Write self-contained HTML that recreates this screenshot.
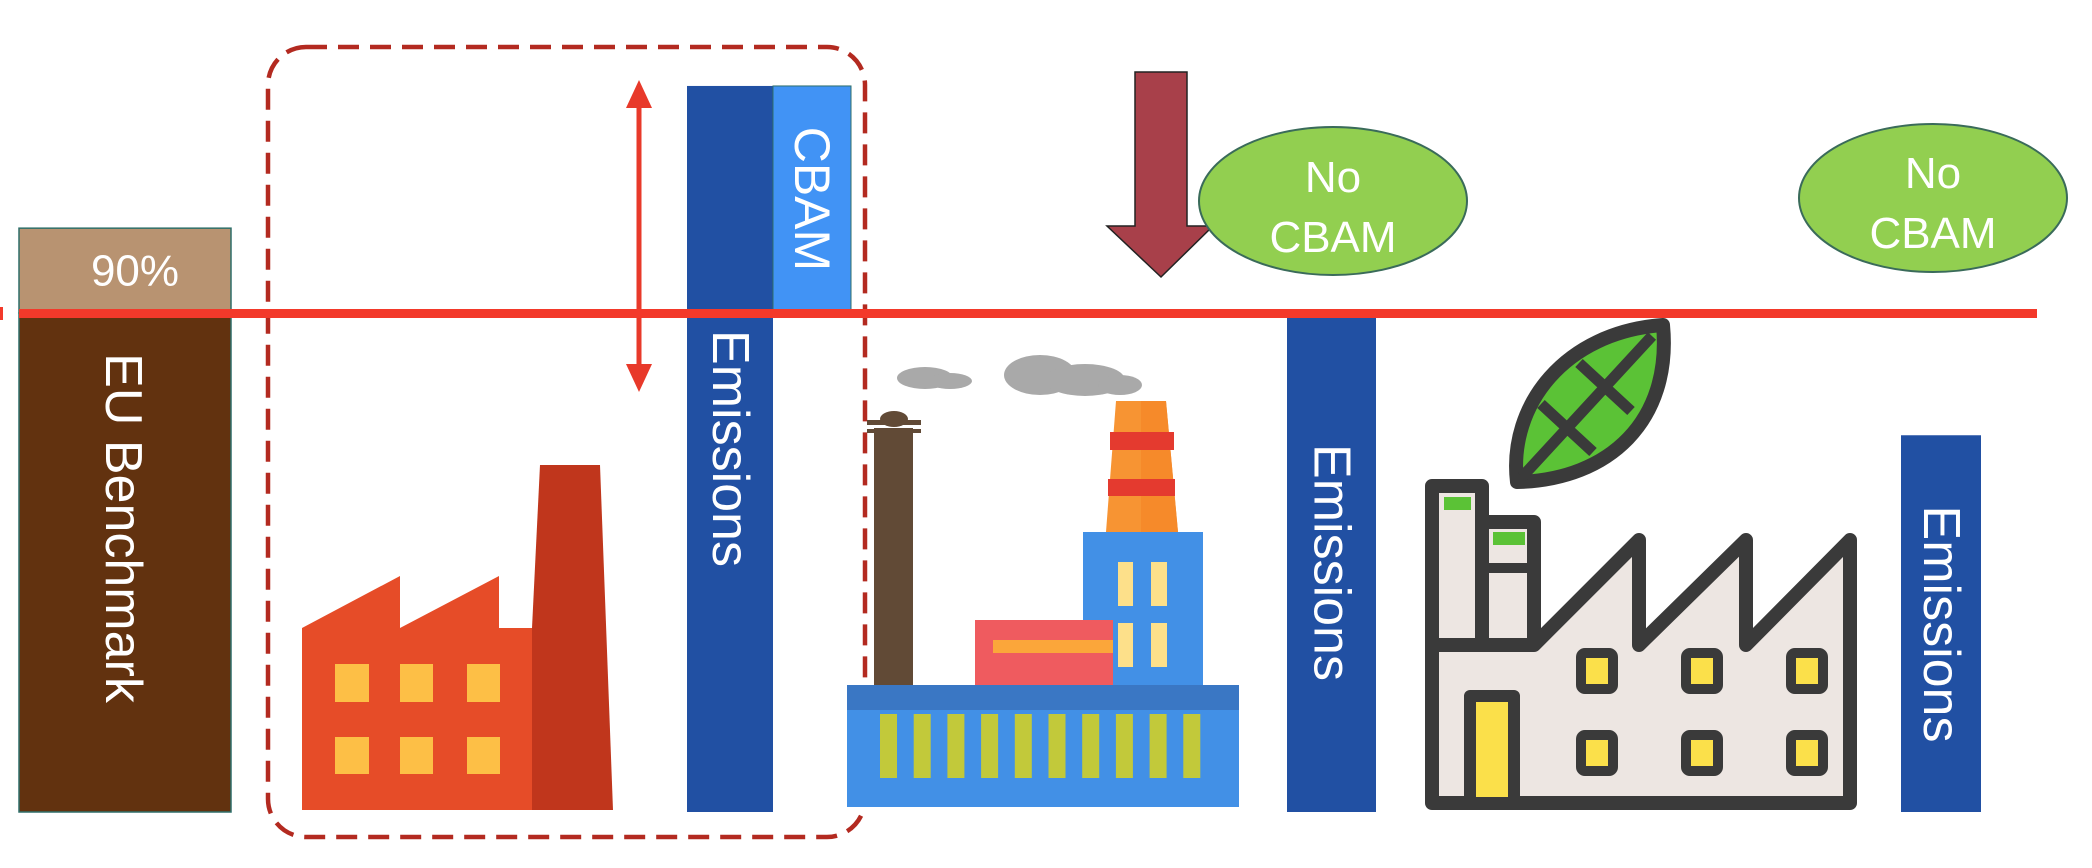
<!DOCTYPE html>
<html><head><meta charset="utf-8">
<style>
html,body{margin:0;padding:0;background:#fff;width:2092px;height:868px;overflow:hidden}
svg{display:block}
text{font-family:"Liberation Sans",Arial,sans-serif;fill:#fff}
</style></head>
<body>
<svg id="chart" width="2092" height="868" viewBox="0 0 2092 868" xmlns="http://www.w3.org/2000/svg">
  <g id="bars"></g>

  <!-- dashed box -->
  <rect x="268" y="47" width="597" height="790" rx="38" fill="none" stroke="#b32a20" stroke-width="4.5" stroke-dasharray="21 11"/>

  <!-- double arrow -->
  <g>
    <line x1="639" y1="96" x2="639" y2="375" stroke="#e8392a" stroke-width="5"/>
    <polygon points="639,80 626,108 652,108" fill="#e8392a"/>
    <polygon points="639,392 626,364 652,364" fill="#e8392a"/>
  </g>

  <!-- red factory -->
  <g>
    <polygon points="302,810 302,628 400,576 400,628 499,576 499,628 532,628 532,810" fill="#e64c28"/>
    <polygon points="540,465 600,465 613,810 532,810 532,628" fill="#c0361c"/>
    <g fill="#fdbf46">
      <rect x="335" y="664" width="34" height="38"/><rect x="400" y="664" width="33" height="38"/><rect x="467" y="664" width="33" height="38"/>
      <rect x="335" y="737" width="34" height="37"/><rect x="400" y="737" width="33" height="37"/><rect x="467" y="737" width="33" height="37"/>
    </g>
  </g>

  <!-- industrial plant -->
  <g>
    <g fill="#a9a9a9">
      <ellipse cx="925" cy="378" rx="28" ry="11"/><ellipse cx="950" cy="381" rx="22" ry="8"/>
      <ellipse cx="1040" cy="375" rx="36" ry="20"/><ellipse cx="1085" cy="380" rx="40" ry="16"/><ellipse cx="1120" cy="385" rx="22" ry="10"/>
    </g>
    <rect x="874" y="428" width="39" height="258" fill="#614a36"/>
    <rect x="867" y="420" width="54" height="5" fill="#614a36"/><rect x="867" y="429" width="54" height="4" fill="#614a36"/>
    <ellipse cx="894" cy="419" rx="14" ry="8" fill="#614a36"/>
    <polygon points="1116,401 1166,401 1178,532 1106,532" fill="#f79433"/>
    <polygon points="1141,401 1166,401 1178,532 1141,532" fill="#f68a2a"/>
    <rect x="1110" y="432" width="64" height="18" fill="#e43a2f"/>
    <rect x="1108" y="479" width="67" height="17" fill="#e43a2f"/>
    <rect x="1083" y="532" width="120" height="154" fill="#4290e6"/>
    <g fill="#fde08a"><rect x="1118" y="562" width="15" height="44"/><rect x="1151" y="562" width="16" height="44"/><rect x="1118" y="623" width="15" height="44"/><rect x="1151" y="623" width="16" height="44"/></g>
    <rect x="975" y="620" width="138" height="66" fill="#ef5b5f"/>
    <rect x="993" y="640" width="120" height="13" fill="#fba63a"/>
    <rect x="847" y="685" width="392" height="25" fill="#3a77c4"/>
    <rect x="847" y="710" width="392" height="97" fill="#4290e6"/>
    <g id="plantBars" fill="#c2c93a"></g>
  </g>

  <!-- green factory -->
  <g stroke="#3a3a3a" stroke-width="14" stroke-linejoin="round">
    <path d="M1517,482 C1508,405 1565,332 1663,325 C1672,420 1610,480 1517,482 Z" fill="#5bc236"/>
    <path d="M1522,477 L1652,336 M1541,404 L1593,452 M1579,363 L1631,411" fill="none" stroke-width="11"/>
    <path d="M1432,803 L1432,486 L1482,486 L1482,522 L1534,522 L1534,645 L1639,540 L1639,645 L1746,540 L1746,645 L1850,540 L1850,803 Z" fill="#ede6e2"/>
    <line x1="1482" y1="522" x2="1482" y2="645"/>
    <line x1="1432" y1="645" x2="1534" y2="645"/>
    <line x1="1482" y1="568" x2="1534" y2="568" stroke-width="10"/>
    <rect x="1444" y="497" width="27" height="13" fill="#5bc236" stroke="none"/>
    <rect x="1493" y="532" width="32" height="13" fill="#5bc236" stroke="none"/>
    <g fill="#fbe04a" stroke-width="10">
      <rect x="1581" y="653" width="32" height="36" rx="4"/><rect x="1686" y="653" width="32" height="36" rx="4"/><rect x="1791" y="653" width="32" height="36" rx="4"/>
      <rect x="1581" y="735" width="32" height="36" rx="4"/><rect x="1686" y="735" width="32" height="36" rx="4"/><rect x="1791" y="735" width="32" height="36" rx="4"/>
    </g>
    <rect x="1470" y="696" width="44" height="107" fill="#fbe04a" stroke-width="12"/>
  </g>

  <!-- red threshold line -->
  <rect x="19" y="309" width="2018" height="9" fill="#f3392a"/>
  <rect x="0" y="307" width="3" height="13" fill="#f3392a"/>

  <!-- down arrow -->
  <polygon points="1135,72 1187,72 1187,226 1213,226 1161,277 1107,226 1135,226" fill="#a8404a" stroke="#222" stroke-width="1.5"/>

  <!-- No CBAM ellipses -->
  <g>
    <ellipse cx="1333" cy="201" rx="134" ry="74" fill="#92cf50" stroke="#3a6b5a" stroke-width="2"/>
    <text x="1333" y="192" font-size="44" text-anchor="middle">No</text>
    <text x="1333" y="252" font-size="44" text-anchor="middle">CBAM</text>
  </g>
  <g>
    <ellipse cx="1933" cy="198" rx="134" ry="74" fill="#92cf50" stroke="#3a6b5a" stroke-width="2"/>
    <text x="1933" y="188" font-size="44" text-anchor="middle">No</text>
    <text x="1933" y="248" font-size="44" text-anchor="middle">CBAM</text>
  </g>
</svg>
<script>
// values in "benchmark = 100" units
const categories = ["EU Benchmark", "Emissions A", "Emissions B", "Emissions C"];
const barValues = [117, 145.5, 100, 75.5];
const thresholdValue = 100;
const benchmarkLabel = "90%";
const plantBarCount = 10;

const baseY = 812, pxPerUnit = 4.99;
function y(v){ return baseY - v * pxPerUnit; }
const NS = "http://www.w3.org/2000/svg";
const g = document.getElementById('bars');
function mk(tag, attrs){ const e = document.createElementNS(NS, tag); for (const k in attrs) e.setAttribute(k, attrs[k]); return e; }
function vtext(txt, cx, y0, y1, size){
  const t = mk('text', {transform:`translate(${cx},${(y0+y1)/2}) rotate(90)`, 'text-anchor':'middle', 'dominant-baseline':'central', 'font-size':size});
  t.textContent = txt; return t;
}
const xs = [[19,231],[687,773],[1287,1376],[1901,1981]];

// benchmark bar
{
  const [x0,x1] = xs[0];
  const top = mk('rect', {x:x0, y:y(barValues[0]), width:x1-x0, height:y(thresholdValue)-y(barValues[0]), fill:'#b89371', stroke:'#2f6f6a', 'stroke-width':1.5});
  
  
  g.appendChild(top);
  const low = mk('rect', {x:x0, y:y(thresholdValue), width:x1-x0, height:baseY-y(thresholdValue), fill:'#62320f', stroke:'#2f6f6a', 'stroke-width':1.5});
  
  
  g.appendChild(low);
  const lt = mk('text', {x:(x0+x1)/2+10, y:(y(barValues[0])+y(thresholdValue))/2+15, 'text-anchor':'middle', 'font-size':44});
  lt.textContent = benchmarkLabel;
  
  
  g.appendChild(lt);
  const vt = vtext(categories[0], (x0+x1)/2-2, 357, 699, 52);
  
  
  g.appendChild(vt);
}
// emission bars
const labelPos = [null,[332,565],[449,676],[509,739]];
for (let i=1;i<4;i++){
  const [x0,x1] = xs[i];
  const r = mk('rect', {x:x0, y:y(barValues[i]), width:x1-x0, height:baseY-y(barValues[i]), fill:'#2150a3'});
  
  
  g.appendChild(r);
  const t = vtext('Emissions', (x0+x1)/2, labelPos[i][0], labelPos[i][1], 52);
  
  
  g.appendChild(t);
  if (barValues[i] > thresholdValue){
    const c = mk('rect', {x:x1, y:y(barValues[i]), width:78, height:y(thresholdValue)-y(barValues[i]), fill:'#4193f5', stroke:'#2f6f6a', 'stroke-width':1});
    
    
    g.appendChild(c);
    const ct = vtext('CBAM', x1+39, y(barValues[i])+41, y(barValues[i])+185, 50);
    
    
    g.appendChild(ct);
  }
}
// plant stripes
const pb = document.getElementById('plantBars');
for (let i=0;i<plantBarCount;i++){
  const r = mk('rect', {x:880+i*33.7, y:714, width:17, height:64});
  
  
  pb.appendChild(r);
}
</script>
</body></html>
